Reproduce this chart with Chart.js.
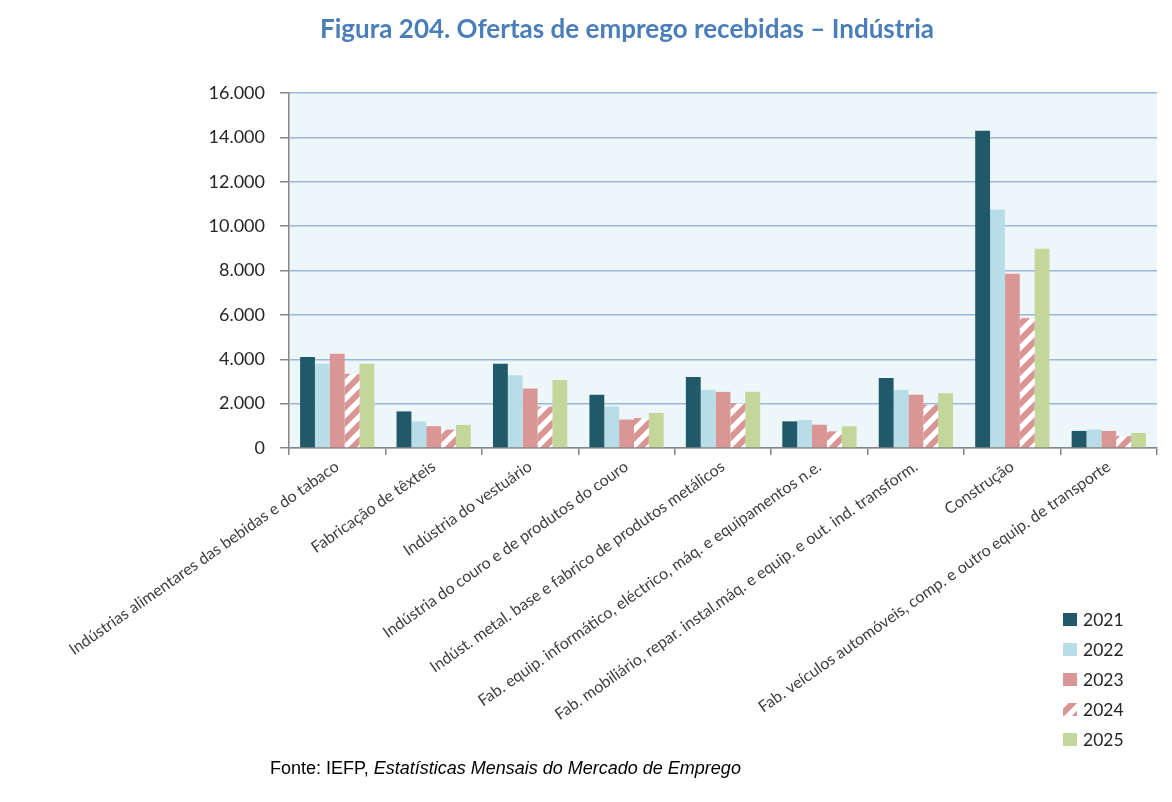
<!DOCTYPE html>
<html>
<head>
<meta charset="utf-8">
<script src="https://cdn.jsdelivr.net/npm/chart.js@4.4.1/dist/chart.umd.min.js"></script>
<style>
  html, body { margin: 0; padding: 0; background: #ffffff; }
  #wrap { width: 1172px; height: 802px; }
</style>
</head>
<body>
<div id="wrap"><canvas id="chart" width="1172" height="802"></canvas></div>
<script>
// Ofertas de emprego recebidas por subsector da indústria
const categories = [
  'Indústrias alimentares das bebidas e do tabaco',
  'Fabricação de têxteis',
  'Indústria do vestuário',
  'Indústria do couro e de produtos do couro',
  'Indúst. metal. base e fabrico de produtos metálicos',
  'Fab. equip. informático, eléctrico, máq. e equipamentos n.e.',
  'Fab. mobiliário, repar. instal.máq. e equip. e out. ind. transform.',
  'Construção',
  'Fab. veículos automóveis, comp. e outro equip. de transporte'
];
const years = ['2021', '2022', '2023', '2024', '2025'];
const v2021 = [4100, 1650, 3800, 2400, 3200, 1200, 3150, 14300, 770];
const v2022 = [3800, 1200, 3280, 1870, 2620, 1260, 2620, 10750, 830];
const v2023 = [4250, 980, 2680, 1280, 2530, 1050, 2400, 7850, 770];
const v2024 = [3350, 830, 1870, 1350, 2010, 750, 1950, 5860, 540];
const v2025 = [3800, 1040, 3060, 1580, 2530, 980, 2470, 8980, 680];
const yTicks = [0, 2000, 4000, 6000, 8000, 10000, 12000, 14000, 16000];

const AXIS = '#868686';
const GRID = '#9bb7dc';
const TEXT = '#404040';

function hatch(color) {
  const c = document.createElement('canvas');
  c.width = 16; c.height = 16;
  const g = c.getContext('2d');
  g.fillStyle = '#ffffff';
  g.fillRect(0, 0, 16, 16);
  g.strokeStyle = color;
  g.lineWidth = 6;
  g.beginPath();
  g.moveTo(-4, 20); g.lineTo(20, -4);
  g.moveTo(-12, 12); g.lineTo(12, -12);
  g.moveTo(4, 28); g.lineTo(28, 4);
  g.stroke();
  return g.createPattern(c, 'repeat');
}

const fmt = v => String(v).replace(/\B(?=(\d{3})+(?!\d))/g, '.');

const plotBg = {
  id: 'plotBg',
  beforeDraw(chart) {
    const { ctx, chartArea: a } = chart;
    ctx.save();
    ctx.fillStyle = '#edf6f9';
    ctx.fillRect(a.left, a.top, a.right - a.left, a.bottom - a.top);
    ctx.restore();
  }
};

const extras = {
  id: 'extras',
  afterDraw(chart) {
    const ctx = chart.ctx;
    ctx.save();
    // title
    ctx.fillStyle = '#4a7ebb';
    ctx.font = "bold 26px Lato";
    ctx.textAlign = 'center';
    ctx.textBaseline = 'middle';
    ctx.fillText('Figura 204. Ofertas de emprego recebidas \u2013 Indústria', 627, 30);

    // legend
    chart.data.datasets.forEach((ds, i) => {
      const y = 620 + i * 30;
      ctx.fillStyle = ds.backgroundColor;
      ctx.fillRect(1063, y - 7, 14, 13);
      ctx.fillStyle = '#262626';
      ctx.font = "17.5px Lato";
      ctx.textAlign = 'left';
      ctx.fillText(ds.label, 1083, y);
    });

    // source
    ctx.fillStyle = '#000000';
    ctx.textAlign = 'left';
    ctx.textBaseline = 'alphabetic';
    ctx.font = "18px 'Liberation Sans'";
    const pre = 'Fonte: IEFP, ';
    ctx.fillText(pre, 270, 774);
    const w = ctx.measureText(pre).width;
    ctx.font = "italic 18px 'Liberation Sans'";
    ctx.fillText('Estatísticas Mensais do Mercado de Emprego', 270 + w, 774);
    ctx.restore();
  }
};

const ctx = document.getElementById('chart').getContext('2d');
const colors = ['#215968', '#b7dde8', '#da9694', hatch('#da9694'), '#c4d79b'];
const series = [v2021, v2022, v2023, v2024, v2025];

new Chart(ctx, {
  type: 'bar',
  data: {
    labels: categories,
    datasets: series.map((data, i) => ({
      label: years[i],
      data,
      backgroundColor: colors[i],
      borderWidth: 0,
      categoryPercentage: 0.77,
      barPercentage: 1.0
    }))
  },
  options: {
    responsive: false,
    animation: false,
    devicePixelRatio: 1,
    layout: { padding: { top: 93, right: 15, bottom: 0, left: 0 } },
    plugins: {
      legend: { display: false },
      tooltip: { enabled: false },
      title: { display: false }
    },
    scales: {
      x: {
        grid: { offset: true, drawOnChartArea: false, tickColor: AXIS, tickLength: 7, lineWidth: 1.5 },
        border: { color: AXIS, width: 1.5 },
        ticks: {
          autoSkip: false,
          minRotation: 35,
          maxRotation: 35,
          padding: 2,
          color: TEXT,
          font: { family: 'Lato', size: 16 }
        },
        afterFit(scale) { scale.height = 354; }
      },
      y: {
        min: 0,
        max: 16000,
        afterBuildTicks(scale) { scale.ticks = yTicks.map(v => ({ value: v })); },
        grid: { color: GRID, lineWidth: 1.5, tickColor: AXIS, tickLength: 9 },
        border: { color: AXIS, width: 1.5 },
        ticks: {
          padding: 15,
          color: '#262626',
          font: { family: 'Lato', size: 18 },
          callback: v => fmt(v)
        },
        afterFit(scale) { scale.width = 289; }
      }
    }
  },
  plugins: [plotBg, extras]
});
</script>
</body>
</html>
